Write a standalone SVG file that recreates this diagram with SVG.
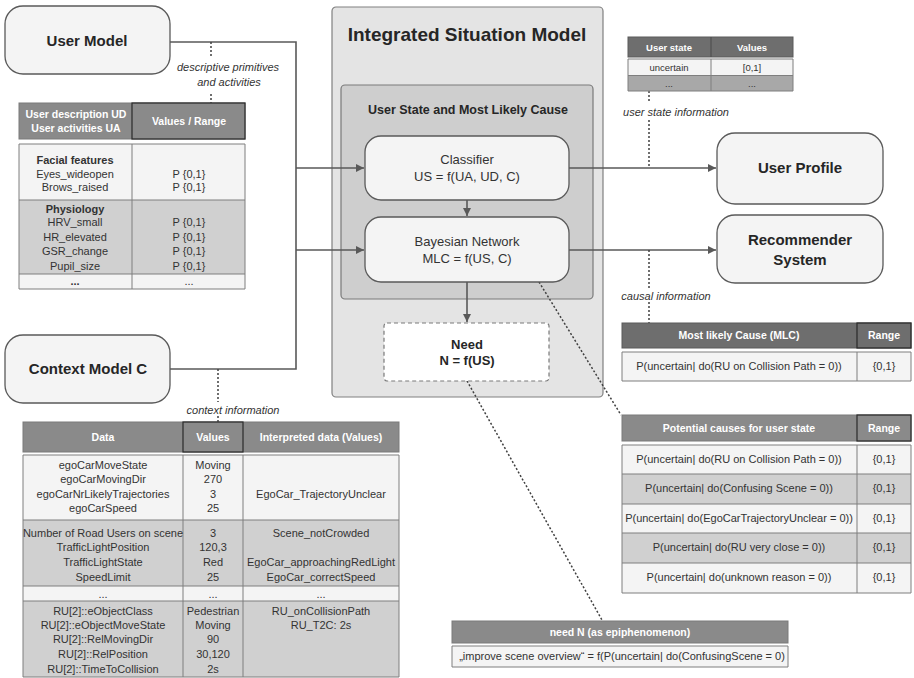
<svg xmlns="http://www.w3.org/2000/svg" width="914" height="678" viewBox="0 0 914 678">
  <defs>
    <marker id="arrow" viewBox="0 0 10 10" refX="10" refY="5" markerWidth="8" markerHeight="8" markerUnits="userSpaceOnUse" orient="auto">
      <path d="M0,0 L10,5 L0,10 z" fill="#595959"/>
    </marker>
    <style>
      text { font-family: "Liberation Sans", Arial, sans-serif; fill: #333; text-anchor: middle; }
      .node { fill: #f4f4f4; stroke: #5a5a5a; stroke-width: 1.3; }
      .big { font-size: 15px; font-weight: bold; fill: #262626; }
      .mid { font-size: 13px; fill: #333; }
      .midb { font-size: 13px; font-weight: bold; fill: #262626; }
      .t { font-size: 11px; }
      .ts { font-size: 9.5px; }
      .tb { font-size: 11px; font-weight: bold; }
      .hd { font-size: 10.5px; font-weight: bold; fill: #fff; }
      .hds { font-size: 9.5px; font-weight: bold; fill: #fff; }
      .lab { font-size: 11px; font-style: italic; fill: #333; }
      .hfill { fill: #8a8a8a; stroke: #7a7a7a; stroke-width: 1; }
      .hdark { fill: #6e6e6e; stroke: #5a5a5a; stroke-width: 1; }
      .hcell { fill: none; stroke: #2a2a2a; stroke-width: 1.2; }
      .light { fill: #f4f4f4; }
      .gray { fill: #d0d0d0; }
      .grid { fill: none; stroke: #7f7f7f; stroke-width: 1; }
      .conn { fill: none; stroke: #595959; stroke-width: 1.6; }
      .dot { fill: none; stroke: #404040; stroke-width: 1.5; stroke-dasharray: 2 2; }
    </style>
  </defs>

  <!-- Integrated Situation Model container -->
  <g id="integrated-situation-model">
    <rect x="332" y="7" width="271" height="390" rx="4" fill="#e4e4e4" stroke="#808080" stroke-width="1.2"/>
    <text x="467" y="41" style="font-size:19px;font-weight:bold;fill:#262626">Integrated Situation Model</text>
  </g>

  <g id="user-state-mlc">
    <rect x="341" y="85" width="252" height="214" rx="4" fill="#cecece" stroke="#7a7a7a" stroke-width="1.2"/>
    <text x="468" y="113.5" style="font-size:12.5px;font-weight:bold;fill:#262626">User State and Most Likely Cause</text>
  </g>

  <!-- connectors -->
  <g id="connectors">
    <path class="conn" d="M170,42 H296 V369 H170"/>
    <path class="conn" d="M296,168 H364" marker-end="url(#arrow)"/>
    <path class="conn" d="M296,250 H364" marker-end="url(#arrow)"/>
    <path class="conn" d="M467,200 V216" marker-end="url(#arrow)"/>
    <path class="conn" d="M467,282 V322" marker-end="url(#arrow)"/>
    <path class="conn" d="M569,168 H716" marker-end="url(#arrow)"/>
    <path class="conn" d="M569,250 H716" marker-end="url(#arrow)"/>
    <!-- dotted information links -->
    <path class="dot" d="M211,42 V57 M211,94 V103"/>
    <path class="dot" d="M218,369 V402 M218,416 V422"/>
    <path class="dot" d="M649,91 V103 M649,120 V168"/>
    <path class="dot" d="M649,250 V289 M649,302 V323"/>
    <path class="dot" d="M539,282 L621,415"/>
    <path class="dot" d="M467,381 L602,620"/>
    <text class="lab" x="228" y="71">descriptive primitives</text>
    <text class="lab" x="229" y="86">and activities</text>
    <text class="lab" x="233" y="414">context information</text>
    <text class="lab" x="676" y="116">user state information</text>
    <text class="lab" x="666" y="300">causal information</text>
  </g>

  <g id="user-model">
    <rect class="node" x="5" y="6" width="165" height="68" rx="18"/>
    <text class="big" x="87" y="46">User Model</text>
  </g>

  <g id="context-model">
    <rect class="node" x="5" y="335" width="165" height="68" rx="18"/>
    <text class="big" x="88" y="374">Context Model C</text>
  </g>

  <g id="classifier">
    <rect class="node" x="365" y="136" width="204" height="64" rx="16"/>
    <text class="mid" x="467" y="163.5">Classifier</text>
    <text class="mid" x="467" y="180.5">US = f(UA, UD, C)</text>
  </g>

  <g id="bayesian-network">
    <rect class="node" x="365" y="217" width="204" height="65" rx="16"/>
    <text class="mid" x="467" y="245.5">Bayesian Network</text>
    <text class="mid" x="467" y="262.5">MLC = f(US, C)</text>
  </g>

  <g id="need">
    <rect x="384" y="323" width="165" height="58" rx="3" fill="#ffffff" stroke="#7a7a7a" stroke-width="1.2" stroke-dasharray="4 3"/>
    <text class="midb" x="467" y="348.5">Need</text>
    <text class="midb" x="467" y="364.5">N = f(US)</text>
  </g>

  <g id="user-profile">
    <rect class="node" x="717" y="133" width="166" height="71" rx="18"/>
    <text class="big" x="800" y="173">User Profile</text>
  </g>

  <g id="recommender-system">
    <rect class="node" x="717" y="215" width="166" height="68" rx="18"/>
    <text class="big" x="800" y="245">Recommender</text>
    <text class="big" x="800" y="265">System</text>
  </g>

  <!-- user description / activities table -->
  <g id="user-table">
    <rect class="hfill" x="19" y="103" width="226" height="36"/>
    <rect class="hcell" x="132" y="103" width="113" height="36"/>
    <text class="hd" x="76" y="118">User description UD</text>
    <text class="hd" x="76" y="132">User activities UA</text>
    <text class="hd" x="189" y="125">Values / Range</text>
    <rect class="light" x="19" y="144" width="226" height="56"/>
    <rect class="gray" x="19" y="200" width="226" height="74"/>
    <rect class="light" x="19" y="274" width="226" height="15"/>
    <path class="grid" d="M19,144 H245 V289 H19 Z M132,144 V289 M19,200 H245 M19,274 H245"/>
    <text class="tb" x="75" y="164">Facial features</text>
    <text class="t" x="75" y="178">Eyes_wideopen</text>
    <text class="t" x="75" y="191">Brows_raised</text>
    <text class="t" x="189" y="178">P {0,1}</text>
    <text class="t" x="189" y="191">P {0,1}</text>
    <text class="tb" x="75" y="213">Physiology</text>
    <text class="t" x="75" y="226">HRV_small</text>
    <text class="t" x="75" y="241">HR_elevated</text>
    <text class="t" x="75" y="255">GSR_change</text>
    <text class="t" x="75" y="270">Pupil_size</text>
    <text class="t" x="189" y="226">P {0,1}</text>
    <text class="t" x="189" y="241">P {0,1}</text>
    <text class="t" x="189" y="255">P {0,1}</text>
    <text class="t" x="189" y="270">P {0,1}</text>
    <text class="tb" x="75" y="285">...</text>
    <text class="t" x="189" y="285">...</text>
  </g>

  <!-- context data table -->
  <g id="context-table">
    <rect class="hfill" x="23" y="422" width="376" height="30"/>
    <rect class="hcell" x="183" y="422" width="60" height="30"/>
    <text class="hd" x="103" y="441">Data</text>
    <text class="hd" x="213" y="441">Values</text>
    <text class="hd" x="321" y="441">Interpreted data (Values)</text>
    <rect class="light" x="23" y="455" width="376" height="65"/>
    <rect class="gray" x="23" y="520" width="376" height="66"/>
    <rect class="light" x="23" y="586" width="376" height="15"/>
    <rect class="gray" x="23" y="601" width="376" height="76"/>
    <path class="grid" d="M23,455 H399 V677 H23 Z M183,455 V677 M243,455 V677 M23,520 H399 M23,586 H399 M23,601 H399"/>
    <text class="t" x="103" y="469">egoCarMoveState</text>
    <text class="t" x="103" y="483">egoCarMovingDir</text>
    <text class="t" x="103" y="498">egoCarNrLikelyTrajectories</text>
    <text class="t" x="103" y="512">egoCarSpeed</text>
    <text class="t" x="213" y="469">Moving</text>
    <text class="t" x="213" y="483">270</text>
    <text class="t" x="213" y="498">3</text>
    <text class="t" x="213" y="512">25</text>
    <text class="t" x="321" y="498">EgoCar_TrajectoryUnclear</text>
    <text class="t" x="103" y="537">Number of Road Users on scene</text>
    <text class="t" x="103" y="551">TrafficLightPosition</text>
    <text class="t" x="103" y="566">TrafficLightState</text>
    <text class="t" x="103" y="581">SpeedLimit</text>
    <text class="t" x="213" y="537">3</text>
    <text class="t" x="213" y="551">120,3</text>
    <text class="t" x="213" y="566">Red</text>
    <text class="t" x="213" y="581">25</text>
    <text class="t" x="321" y="537">Scene_notCrowded</text>
    <text class="t" x="321" y="566">EgoCar_approachingRedLight</text>
    <text class="t" x="321" y="581">EgoCar_correctSpeed</text>
    <text class="t" x="103" y="598">...</text>
    <text class="t" x="213" y="598">...</text>
    <text class="t" x="321" y="598">...</text>
    <text class="t" x="103" y="615">RU[2]::eObjectClass</text>
    <text class="t" x="103" y="629">RU[2]::eObjectMoveState</text>
    <text class="t" x="103" y="643">RU[2]::RelMovingDir</text>
    <text class="t" x="103" y="658">RU[2]::RelPosition</text>
    <text class="t" x="103" y="673">RU[2]::TimeToCollision</text>
    <text class="t" x="213" y="615">Pedestrian</text>
    <text class="t" x="213" y="629">Moving</text>
    <text class="t" x="213" y="643">90</text>
    <text class="t" x="213" y="658">30,120</text>
    <text class="t" x="213" y="673">2s</text>
    <text class="t" x="321" y="615">RU_onCollisionPath</text>
    <text class="t" x="321" y="629">RU_T2C: 2s</text>
  </g>

  <!-- user state table -->
  <g id="user-state-table">
    <rect class="hdark" x="628" y="37" width="165" height="20"/>
    <path d="M711,37 V57" stroke="#4a4a4a" stroke-width="1"/>
    <text class="hds" x="669" y="51">User state</text>
    <text class="hds" x="752" y="51">Values</text>
    <rect class="light" x="628" y="59" width="165" height="16"/>
    <rect x="628" y="76" width="165" height="15" fill="#a8a8a8"/>
    <path class="grid" d="M628,59 H793 V91 H628 Z M711,59 V91 M628,75.5 H793"/>
    <text class="ts" x="669" y="70.5">uncertain</text>
    <text class="ts" x="752" y="70.5">[0,1]</text>
    <text class="ts" x="669" y="87">...</text>
    <text class="ts" x="752" y="87">...</text>
  </g>

  <!-- most likely cause table -->
  <g id="mlc-table">
    <rect class="hdark" x="622" y="323" width="289" height="25"/>
    <rect class="hcell" x="857" y="323" width="54" height="25"/>
    <text class="hd" x="739" y="339">Most likely Cause (MLC)</text>
    <text class="hd" x="884" y="339">Range</text>
    <rect class="light" x="622" y="352" width="289" height="29"/>
    <path class="grid" d="M622,352 H911 V381 H622 Z M857,352 V381"/>
    <text class="t" x="739" y="370">P(uncertain| do(RU on Collision Path = 0))</text>
    <text class="t" x="884" y="370">{0,1}</text>
  </g>

  <!-- potential causes table -->
  <g id="causes-table">
    <rect class="hfill" x="622" y="415" width="289" height="26"/>
    <rect class="hcell" x="857" y="415" width="54" height="26"/>
    <text class="hd" x="739" y="432">Potential causes for user state</text>
    <text class="hd" x="884" y="432">Range</text>
    <rect class="light" x="622" y="445" width="289" height="29"/>
    <rect class="gray" x="622" y="474" width="289" height="30"/>
    <rect class="light" x="622" y="504" width="289" height="29"/>
    <rect class="gray" x="622" y="533" width="289" height="30"/>
    <rect class="light" x="622" y="563" width="289" height="30"/>
    <path class="grid" d="M622,445 H911 V593 H622 Z M857,445 V593 M622,474 H911 M622,504 H911 M622,533 H911 M622,563 H911"/>
    <text class="t" x="739" y="463">P(uncertain| do(RU on Collision Path = 0))</text>
    <text class="t" x="739" y="492">P(uncertain| do(Confusing Scene = 0))</text>
    <text class="t" x="739" y="522">P(uncertain| do(EgoCarTrajectoryUnclear = 0))</text>
    <text class="t" x="739" y="551">P(uncertain| do(RU very close = 0))</text>
    <text class="t" x="739" y="581">P(uncertain| do(unknown reason = 0))</text>
    <text class="t" x="884" y="463">{0,1}</text>
    <text class="t" x="884" y="492">{0,1}</text>
    <text class="t" x="884" y="522">{0,1}</text>
    <text class="t" x="884" y="551">{0,1}</text>
    <text class="t" x="884" y="581">{0,1}</text>
  </g>

  <!-- need table -->
  <g id="need-table">
    <rect class="hfill" x="452" y="621" width="336" height="22"/>
    <text class="hd" x="620" y="636">need N (as epiphenomenon)</text>
    <rect class="light" x="452" y="646" width="336" height="21"/>
    <path class="grid" d="M452,646 H788 V667 H452 Z"/>
    <text class="t" x="622" y="660">„improve scene overview“ = f(P(uncertain| do(ConfusingScene = 0)</text>
  </g>
</svg>
